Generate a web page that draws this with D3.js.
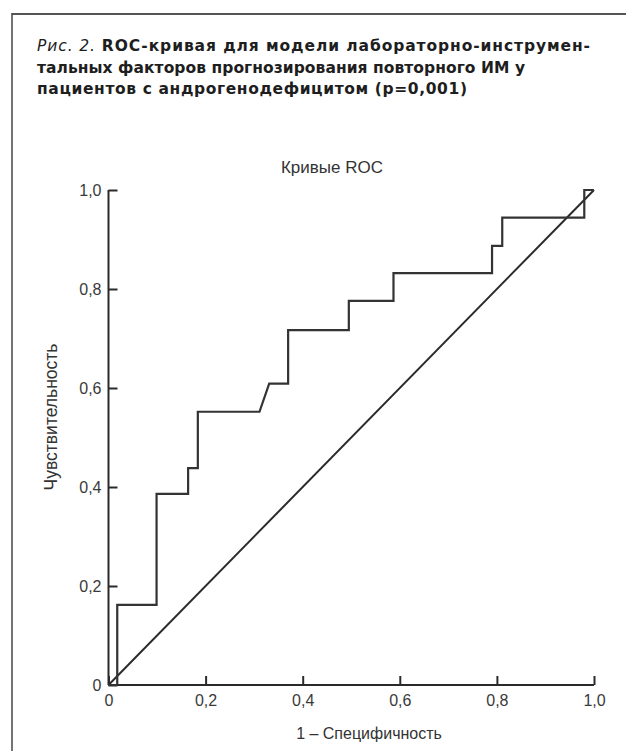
<!DOCTYPE html>
<html lang="ru">
<head>
<meta charset="UTF-8">
<title>ROC-кривая</title>
<script src="https://d3js.org/d3.v7.min.js"></script>
<style>
    body { margin: 0; background: #fff; font-family: 'Liberation Sans', Arial, sans-serif; }
    .axis text { font-size: 16px; fill: #3a3a3a; font-family: 'Liberation Sans', Arial, sans-serif; }
    .axis path, .axis line { stroke: #2a2a2a; stroke-width: 2; }
    .caption text { font-family: 'DejaVu Sans', sans-serif; }
</style>
</head>
<body>
<div id="chart"></div>
<script>
    // ROC curve: 1 - specificity vs sensitivity
    const fpr = [0, 0.018, 0.018, 0.099, 0.099, 0.164, 0.164, 0.184, 0.184, 0.311, 0.331, 0.370, 0.370, 0.495, 0.495, 0.587, 0.587, 0.790, 0.790, 0.811, 0.811, 0.980, 0.980, 1.0];
    const tpr = [0, 0, 0.162, 0.162, 0.386, 0.386, 0.438, 0.438, 0.552, 0.552, 0.609, 0.609, 0.717, 0.717, 0.776, 0.776, 0.832, 0.832, 0.887, 0.887, 0.944, 0.944, 1.0, 1.0];
    const refLine = [[0, 0], [1, 1]];
    const ticks = [0, 0.2, 0.4, 0.6, 0.8, 1.0];
    const tickLabels = ["0", "0,2", "0,4", "0,6", "0,8", "1,0"];

    const captionLines = [
        { italic: "Рис. 2. ", bold: "ROC-кривая для модели лабораторно-инструмен-", width: 553 },
        { italic: "", bold: "тальных факторов прогнозирования повторного ИМ у", width: 488 },
        { italic: "", bold: "пациентов с андрогенодефицитом (p=0,001)", width: 430 }
    ];

    const W = 626, H = 751;
    const svg = d3.select("#chart").append("svg")
        .attr("width", W).attr("height", H);

    // page frame (top and left rules)
    svg.append("line").attr("x1", 12).attr("x2", W).attr("y1", 14).attr("y2", 14)
        .attr("stroke", "#555").attr("stroke-width", 2);
    svg.append("line").attr("x1", 12).attr("x2", 12).attr("y1", 13).attr("y2", H)
        .attr("stroke", "#444").attr("stroke-width", 1.5);

    // caption
    const cap = svg.append("g").attr("class", "caption").attr("fill", "#1e1e1e");
    captionLines.forEach((l, i) => {
        const t = cap.append("text").attr("x", 37).attr("y", 51 + i * 21.5)
            .attr("textLength", l.width).attr("lengthAdjust", "spacing")
            .style("font-size", "15.5px");
        if (l.italic) t.append("tspan").style("font-style", "italic").style("font-weight", "normal").text(l.italic);
        t.append("tspan").style("font-weight", "bold").text(l.bold);
    });

    const x = d3.scaleLinear().domain([0, 1]).range([108.5, 594]);
    const y = d3.scaleLinear().domain([0, 1]).range([685, 190]);

    svg.append("g").attr("class", "axis")
        .attr("transform", `translate(0,${y(0)})`)
        .call(d3.axisBottom(x).tickValues(ticks).tickFormat((d, i) => tickLabels[i])
            .tickSizeInner(-9).tickSizeOuter(0).tickPadding(10))
        .call(g => g.select(".domain").attr("d", `M${x(0)},0H${x(1)}`));

    svg.append("g").attr("class", "axis")
        .attr("transform", `translate(${x(0)},0)`)
        .call(d3.axisLeft(y).tickValues(ticks).tickFormat((d, i) => tickLabels[i])
            .tickSizeInner(-9).tickSizeOuter(0).tickPadding(7))
        .call(g => g.select(".domain").attr("d", `M0,${y(0)}V${y(1)}`));

    // diagonal reference
    svg.append("path")
        .datum(refLine)
        .attr("fill", "none").attr("stroke", "#2a2a2a").attr("stroke-width", 2)
        .attr("d", d3.line().x(d => x(d[0])).y(d => y(d[1])));

    // ROC step curve
    const pts = fpr.map((f, i) => [f, tpr[i]]);
    svg.append("path")
        .datum(pts)
        .attr("fill", "none").attr("stroke", "#333").attr("stroke-width", 2.2)
        .attr("stroke-linejoin", "miter")
        .attr("d", d3.line().x(d => x(d[0])).y(d => y(d[1])));

    // titles
    svg.append("text").attr("x", 332).attr("y", 173).attr("text-anchor", "middle")
        .style("font-size", "17px").attr("fill", "#333").text("Кривые ROC");
    svg.append("text").attr("x", 369).attr("y", 739).attr("text-anchor", "middle")
        .style("font-size", "16px").attr("fill", "#333").text("1 – Специфичность");
    svg.append("text")
        .attr("transform", `translate(57,${417}) rotate(-90)`)
        .attr("text-anchor", "middle")
        .style("font-size", "17.5px").attr("fill", "#333").text("Чувствительность");
</script>
</body>
</html>
